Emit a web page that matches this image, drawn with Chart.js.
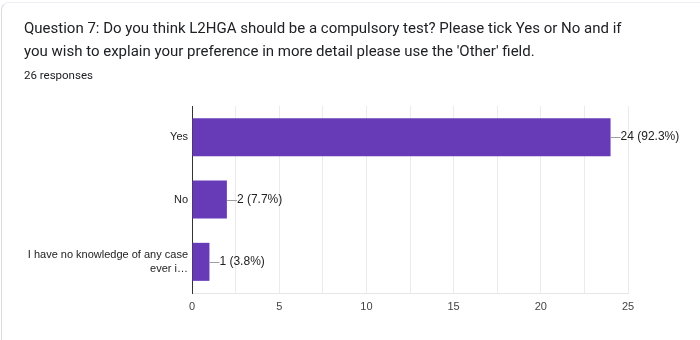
<!DOCTYPE html>
<html><head><meta charset="utf-8">
<script src="https://cdn.jsdelivr.net/npm/chart.js@4"></script>
<style>
html,body{margin:0;padding:0;background:#fff;width:700px;height:340px;overflow:hidden;}
#card{position:absolute;left:1px;top:2px;width:720px;height:360px;border-left:1px solid #dadce0;border-top:1px solid #eceef3;border-top-left-radius:8px;box-sizing:border-box;}
#t1{position:absolute;left:24px;top:17px;font-family:Roboto,"Open Sans",sans-serif;font-size:15px;line-height:23px;color:#202124;white-space:nowrap;}
#t2{position:absolute;left:24px;top:68px;font-family:Roboto,sans-serif;font-size:11.5px;color:#202124;}
#wrap{position:absolute;left:0;top:0;width:700px;height:340px;}
</style></head><body>
<div id="card"></div>
<div id="wrap"><canvas id="c" width="700" height="340"></canvas></div>
<div id="t1">Question 7: Do you think L2HGA should be a compulsory test? Please tick Yes or No and if<br>you wish to explain your preference in more detail please use the 'Other' field.</div>
<div id="t2">26 responses</div>
<script>
const categories = [["Yes"], ["No"], ["I have no knowledge of any case", "ever i…"]];
const counts = [24, 2, 1];
const percents = ["92.3%", "7.7%", "3.8%"];
const xTicks = [0, 5, 10, 15, 20, 25];

const labelPlugin = {
  id: 'valLabels',
  afterDatasetsDraw(chart) {
    const ctx = chart.ctx;
    const meta = chart.getDatasetMeta(0);
    ctx.save();
    meta.data.forEach((bar, i) => {
      const x = bar.x, y = bar.y;
      ctx.strokeStyle = '#9e9e9e';
      ctx.lineWidth = 1;
      ctx.beginPath();
      ctx.moveTo(x, Math.round(y) + 0.5);
      ctx.lineTo(x + 10, Math.round(y) + 0.5);
      ctx.stroke();
      ctx.fillStyle = '#222';
      ctx.font = '12px "Liberation Sans", Arial, sans-serif';
      ctx.textBaseline = 'middle';
      ctx.textAlign = 'left';
      ctx.fillText(counts[i] + ' (' + percents[i] + ')', x + 10, y);
    });
    ctx.restore();
  }
};

new Chart(document.getElementById('c'), {
  type: 'bar',
  data: {
    labels: categories,
    datasets: [{
      data: counts,
      backgroundColor: '#673ab7',
      borderWidth: 0,
      categoryPercentage: 1,
      barPercentage: 0.61
    }]
  },
  options: {
    indexAxis: 'y',
    responsive: false,
    animation: false,
    layout: { padding: { top: 106, right: 72, left: 0, bottom: 0 } },
    plugins: { legend: { display: false }, tooltip: { enabled: false } },
    scales: {
      x: {
        min: 0, max: 25,
        afterFit(s) { s.height = 47; },
        ticks: {
          stepSize: 2.5,
          autoSkip: false,
          maxRotation: 0,
          padding: 7,
          color: '#444',
          font: { family: '"Liberation Sans", Arial, sans-serif', size: 11 },
          callback: (v) => xTicks.includes(v) ? String(v) : ''
        },
        grid: { color: '#ebebeb', drawTicks: false },
        border: { display: true, color: '#e6e6e6' }
      },
      y: {
        afterFit(s) { s.width = 192; },
        ticks: {
          padding: 4,
          color: '#222',
          font: { family: '"Liberation Sans", Arial, sans-serif', size: 11, lineHeight: 1.25 }
        },
        grid: { display: false, drawTicks: false },
        border: { display: true, color: '#333', width: 1 }
      }
    }
  },
  plugins: [labelPlugin]
});
</script>
</body></html>
